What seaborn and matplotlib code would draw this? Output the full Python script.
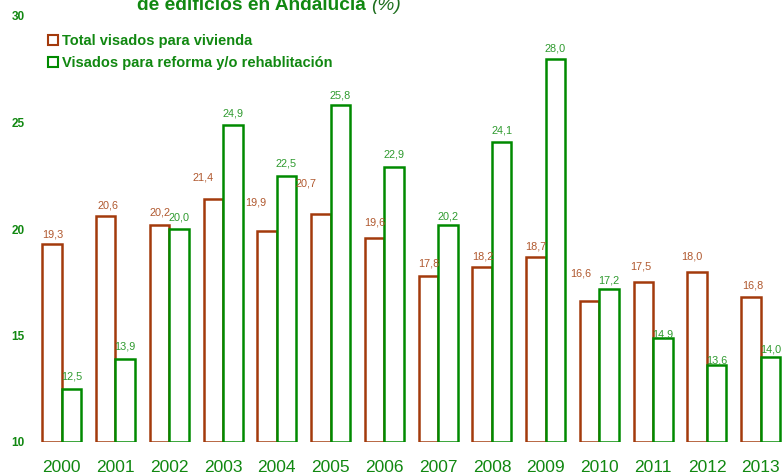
import matplotlib
matplotlib.use("Agg")
import matplotlib.pyplot as plt
import seaborn as sns
import pandas as pd
from matplotlib.font_manager import FontProperties
from matplotlib.lines import Line2D

years = ["2000", "2001", "2002", "2003", "2004", "2005", "2006",
         "2007", "2008", "2009", "2010", "2011", "2012", "2013"]
total_vivienda = [19.3, 20.6, 20.2, 21.4, 19.9, 20.7, 19.6,
                  17.8, 18.2, 18.7, 16.6, 17.5, 18.0, 16.8]
reforma = [12.5, 13.9, 20.0, 24.9, 22.5, 25.8, 22.9,
           20.2, 24.1, 28.0, 17.2, 14.9, 13.6, 14.0]
series_names = ["Total visados para vivienda",
                "Visados para reforma y/o rehablitación"]
y_ticks = [10, 15, 20, 25, 30]
title_main = "de edificios en Andalucía"
title_unit = "(%)"

# label offsets (pixels) — style only
brown_dx = [1, 2, 0, -10, -11, -15, 0, 0, 1, 0, -9, -3, -5, 2]
brown_dy = [9, 11, 12, 22, 29, 31, 15, 12, 11, 10, 28, 16, 15, 12]
green_dy = [12, 12, 12, 11, 12, 10, 13, 8, 11, 10, 8, 3, 5, 7]

BROWN = "#A33A0C"
GREEN = "#008A00"
BROWN_TXT = "#B0582E"
GREEN_TXT = "#2E9A2E"
TXT_GREEN = "#118811"

sns.set_theme(style="white")
plt.rcParams["font.family"] = ["Liberation Sans", "DejaVu Sans"]

df = pd.DataFrame({
    "year": years * 2,
    "value": total_vivienda + reforma,
    "serie": [series_names[0]] * len(years) + [series_names[1]] * len(years),
})

fig = plt.figure(figsize=(7.82, 4.76), dpi=100)
renderer = fig.canvas.get_renderer()
ax = fig.add_axes([30 / 782, 34 / 476, 752 / 782, 426 / 476])

sns.barplot(data=df, x="year", y="value", hue="serie", order=years,
            hue_order=series_names, palette=[BROWN, GREEN], fill=False,
            width=0.725, linewidth=1.8, legend=False, ax=ax, errorbar=None)

ymin = y_ticks[0]
bars = list(ax.patches)
for p in bars:
    h = p.get_height()
    p.set_y(ymin)
    p.set_height(h - ymin)
    p.set_facecolor("white")

n = len(years)
for i, p in enumerate(bars[:n]):
    cx = p.get_x() + p.get_width() / 2
    ax.annotate(f"{total_vivienda[i]:.1f}".replace(".", ","),
                xy=(cx, total_vivienda[i]), xytext=(brown_dx[i], brown_dy[i]),
                textcoords="offset pixels", ha="center", va="center",
                fontsize=7.8, color=BROWN_TXT, annotation_clip=False)
for i, p in enumerate(bars[n:]):
    cx = p.get_x() + p.get_width() / 2
    ax.annotate(f"{reforma[i]:.1f}".replace(".", ","),
                xy=(cx, reforma[i]), xytext=(0, green_dy[i]),
                textcoords="offset pixels", ha="center", va="center",
                fontsize=7.8, color=GREEN_TXT, annotation_clip=False)

ax.set_xlim(-0.59, 13.395)
ax.set_ylim(y_ticks[0], y_ticks[-1])
ax.set_yticks(y_ticks)
ax.set_yticklabels([str(t) for t in y_ticks], fontsize=8.5,
                   fontweight="bold", color=TXT_GREEN)
ax.tick_params(axis="y", length=0, pad=4)
ax.tick_params(axis="x", length=0, pad=13, labelsize=12.5, labelcolor=TXT_GREEN)
ax.set_xlabel("")
ax.set_ylabel("")
for s in ax.spines.values():
    s.set_visible(False)

leg_fp = FontProperties(family="Liberation Sans", weight="bold", size=10.5)
handles = [Line2D([], [], marker="s", linestyle="none", markersize=6.5,
                  markerfacecolor="white", markeredgecolor=c,
                  markeredgewidth=1.5) for c in (BROWN, GREEN)]
leg = ax.legend(handles, series_names, loc="upper left",
                bbox_to_anchor=(49 / 782, 1 - 34 / 476),
                bbox_transform=fig.transFigure, frameon=False,
                handlelength=0.6, handletextpad=0.3, labelspacing=0.55,
                borderpad=0, borderaxespad=0, prop=leg_fp)
for t in leg.get_texts():
    t.set_color(TXT_GREEN)

title_fp = FontProperties(family="Liberation Sans", weight="bold", size=13.8)
t_main = fig.text(137 / 782, 1 - 10 / 476, title_main, ha="left",
                  va="baseline", fontproperties=title_fp, color=TXT_GREEN)
bb = t_main.get_window_extent(renderer)
unit_fp = FontProperties(family="Liberation Sans", style="italic", size=13.8)
fig.text((bb.x1 + 5) / 782, 1 - 10 / 476, title_unit, ha="left", va="baseline",
         fontproperties=unit_fp, color="#1F6F1F")

fig.savefig("out.png", dpi=100)
